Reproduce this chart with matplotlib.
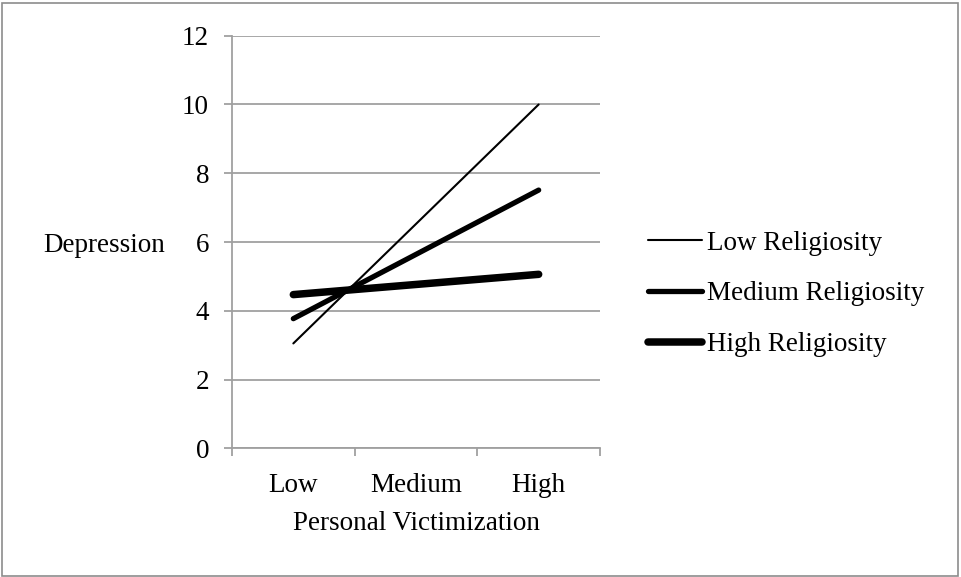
import numpy as np
import matplotlib
matplotlib.use("Agg")
import matplotlib.pyplot as plt
from matplotlib.patches import Rectangle

categories = ["Low", "Medium", "High"]
low_rel = [3.05, None, 10.0]
med_rel = [3.77, None, 7.51]
high_rel = [4.47, None, 5.06]
series_names = ["Low Religiosity", "Medium Religiosity", "High Religiosity"]
yticks = [0, 2, 4, 6, 8, 10, 12]

plt.rcParams['font.family'] = ['Liberation Serif', 'DejaVu Serif']
FS = 19.5

W, H = 962, 577
fig = plt.figure(figsize=(W / 100, H / 100), dpi=100)
ax = fig.add_axes([232 / W, 1 - 448.3 / H, (600 - 232) / W, (448.3 - 35.7) / H])

grey = '#a0a0a0'
widths = [1.5, 3.8, 5.4]
for vals, name, lw in zip([low_rel, med_rel, high_rel], series_names, widths):
    xs = [i for i, v in enumerate(vals) if v is not None]
    ys = [v for v in vals if v is not None]
    ax.plot(xs, ys, color='black', lw=lw, solid_capstyle='round', label=name, zorder=3)

ax.set_xlim(-0.5, 2.5)
ax.set_ylim(0, 12)
ax.set_yticks(yticks)
ax.set_yticklabels([str(t) for t in yticks], fontsize=FS)
ax.yaxis.grid(True, color=grey, lw=1.3)
ax.set_axisbelow(True)

ax.set_xticks([-0.5, 0.5, 1.5, 2.5])
ax.set_xticklabels([])
ax.set_xticks([0, 1, 2], minor=True)
ax.set_xticklabels(categories, minor=True, fontsize=FS)
ax.tick_params(axis='x', which='major', length=5.5, width=1.3, color=grey, direction='out')
ax.tick_params(axis='x', which='minor', length=0, pad=18)
ax.tick_params(axis='y', length=5.5, width=1.3, color=grey, direction='out', pad=11)

for s in ['top', 'right']:
    ax.spines[s].set_visible(False)
for s in ['left', 'bottom']:
    ax.spines[s].set_color(grey)
    ax.spines[s].set_linewidth(1.3)

ax.set_ylabel("Depression", rotation=0, fontsize=FS, ha='center', va='center')
ax.yaxis.set_label_coords((104 - 232) / 368, (448.3 - 245) / 412.6)
ax.set_xlabel("Personal Victimization", fontsize=FS, ha='center', va='center')
ax.xaxis.set_label_coords((416 - 232) / 368, (448.3 - 524) / 412.6)

leg = fig.legend(loc='center left', bbox_to_anchor=(648 / W, 1 - 294 / H),
                 frameon=False, fontsize=FS, handlelength=2.0, handletextpad=0.18,
                 labelspacing=0.95, borderpad=0, borderaxespad=0)

fig.patches.append(Rectangle((1.5 / W, 1.5 / H), (W - 5) / W, (H - 4) / H,
                             transform=fig.transFigure, fill=False,
                             edgecolor='#8c8c8c', lw=1.2))

fig.savefig('out.png', dpi=100)
